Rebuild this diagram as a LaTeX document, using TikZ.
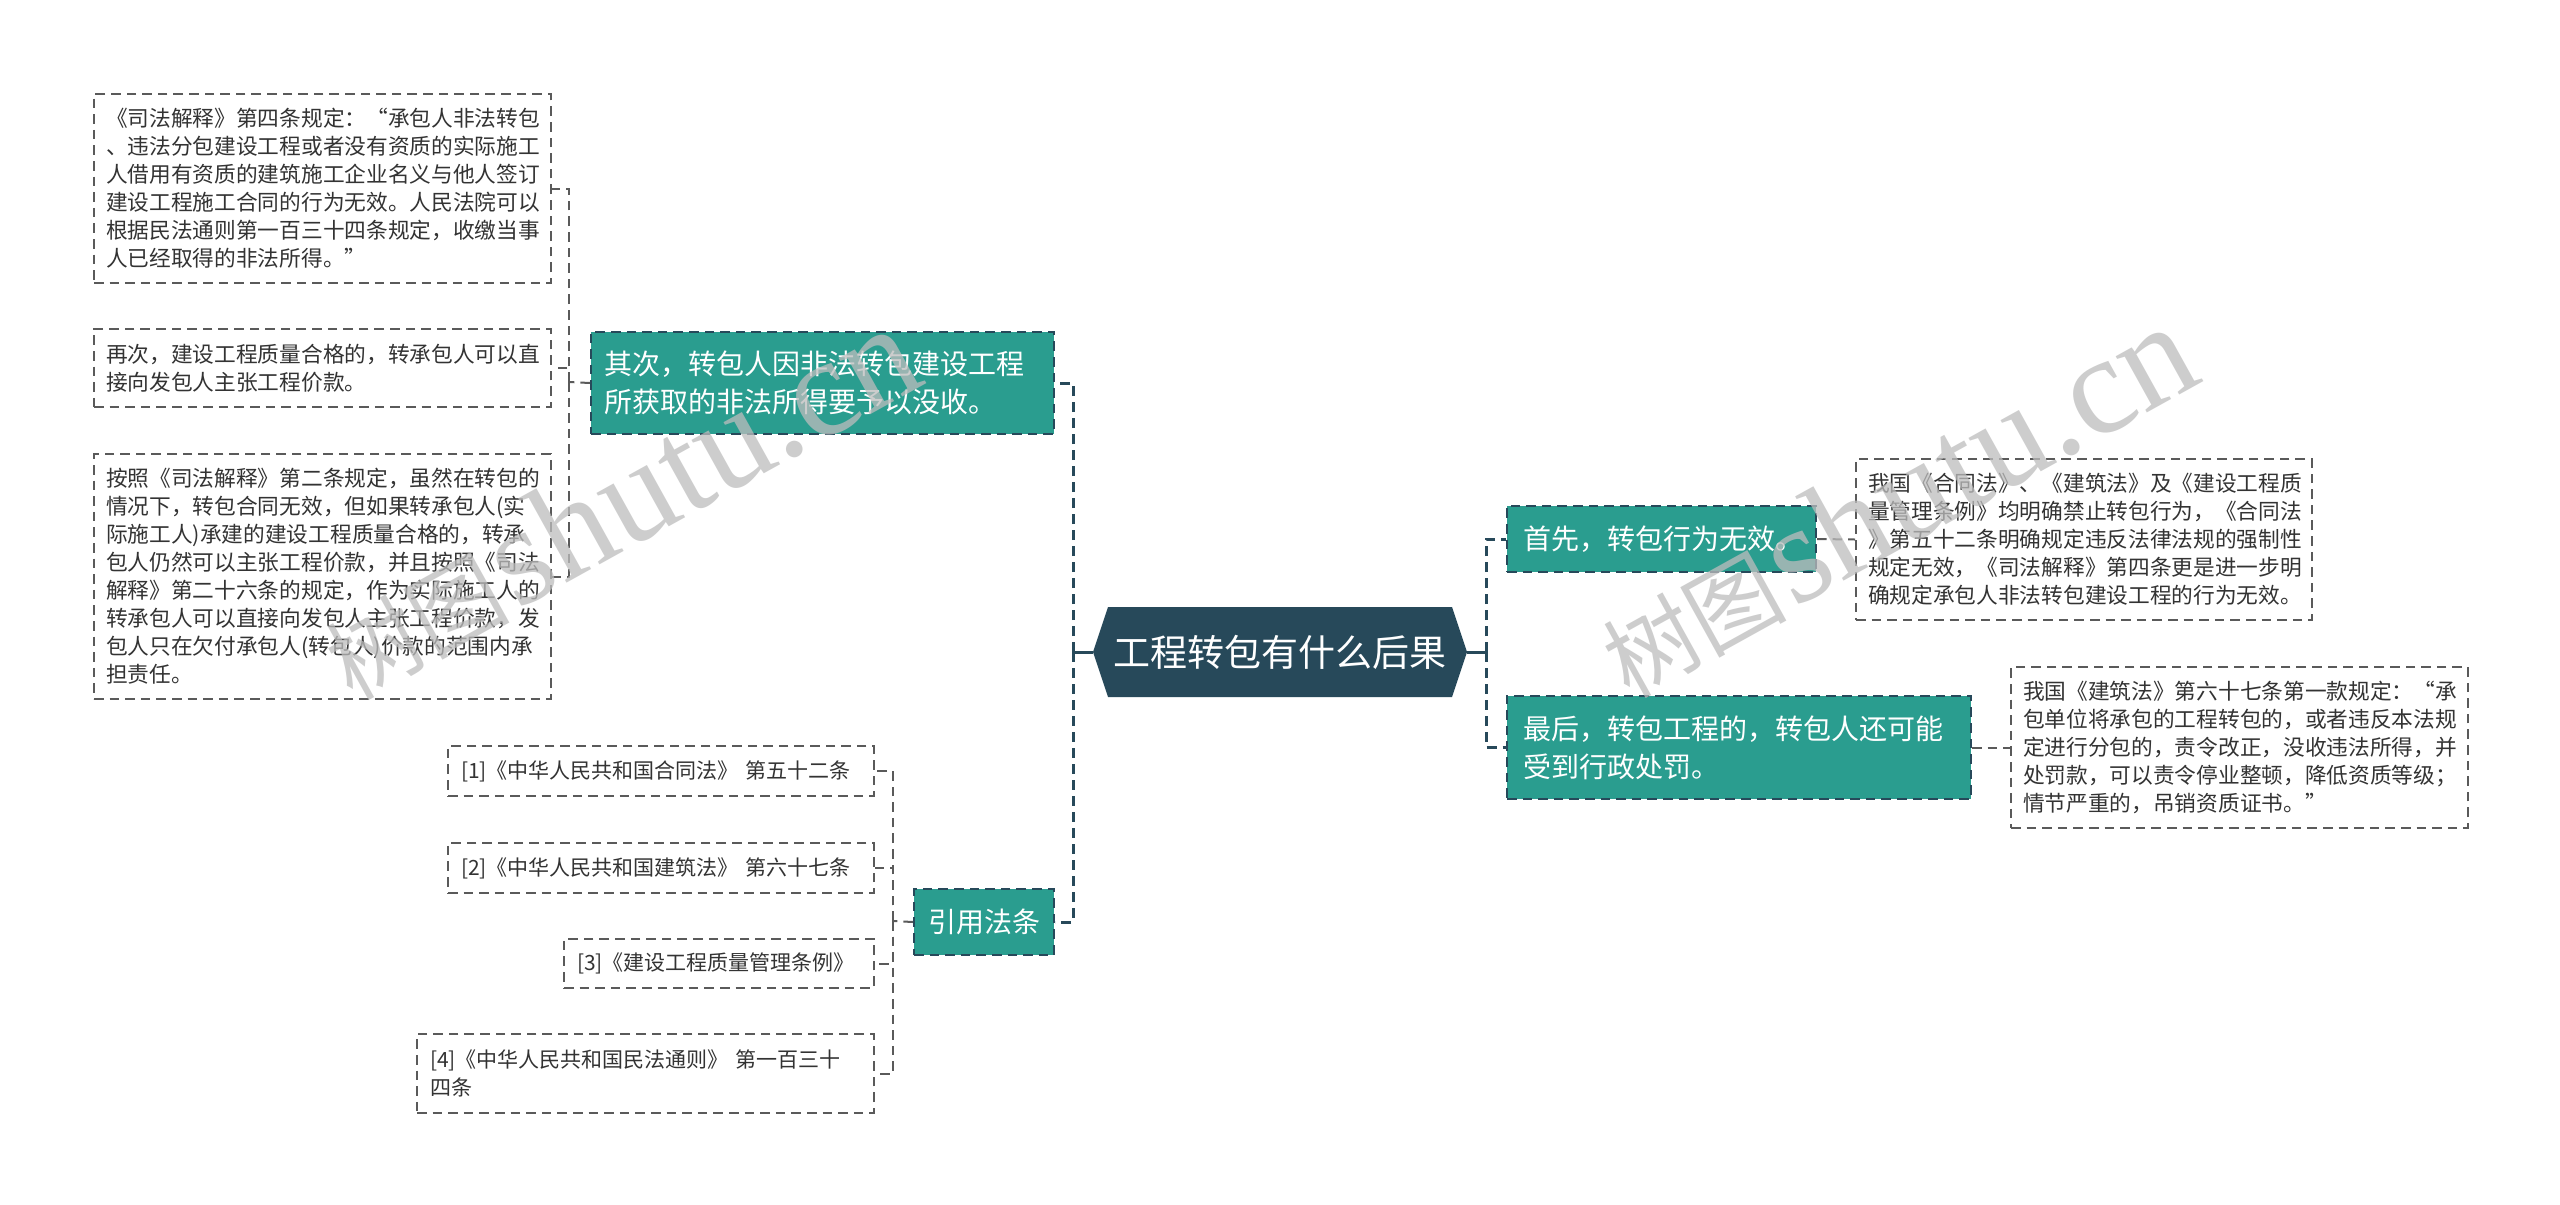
\documentclass[tikz,border=0pt]{standalone}
\usepackage{fontspec}
\setmainfont{Noto Sans CJK SC}
\newfontfamily\wmlatin{Liberation Serif}
\usetikzlibrary{calc}
\definecolor{slate}{HTML}{27495A}
\definecolor{tealfill}{HTML}{2A9D8F}
\definecolor{leafline}{HTML}{5A5A5A}
\definecolor{leaftext}{HTML}{333333}
\definecolor{wmgray}{HTML}{BDBDBD}
\tikzset{
  leafbox/.style={draw=leafline, line width=1pt, dash pattern=on 4.8pt off 3pt,
    fill=white, text=leaftext, font=\fontsize{10.85pt}{14pt}\selectfont,
    align=left, anchor=north west, inner xsep=6pt, inner ysep=0pt},
  refbox/.style={leafbox, font=\fontsize{10.5pt}{14pt}\selectfont, inner xsep=6.5pt},
  branchbox/.style={draw=slate, line width=1pt, dash pattern=on 4.8pt off 3pt,
    fill=tealfill, text=white, font=\fontsize{14pt}{19pt}\selectfont,
    align=left, anchor=north west, inner ysep=0pt},
  centerbox/.style={text=white, font=\fontsize{18.5pt}{22pt}\selectfont,
    minimum width=187pt, minimum height=45pt, inner sep=0pt},
  mainconn/.style={draw=slate, line width=1.5pt, dash pattern=on 5pt off 3pt},
  mainsolid/.style={draw=slate, line width=1.5pt},
  leafconn/.style={draw=leafline, line width=1pt, dash pattern=on 4.8pt off 3pt},
  wmark/.style={text=wmgray, text opacity=0.75, inner sep=0pt, anchor=base west, rotate=29}
}
\begin{document}
\begin{tikzpicture}[x=0.5pt,y=-0.5pt]
\path[use as bounding box, fill=white] (0,0) rectangle (2560,1205);

% center node
\fill[slate] (1093,652) -- (1108,607) -- (1452,607) -- (1467,652) -- (1452,697) -- (1108,697) -- cycle;
\node[centerbox] (c) at (1280,652) {工程转包有什么后果};

% branch nodes
\node[branchbox, inner xsep=6.5pt, text width=218.5pt, minimum height=51pt] (qici) at (590,331)
  {其次，转包人因非法转包建设工程\\所获取的非法所得要予以没收。};
\node[branchbox, inner xsep=7pt, text width=56pt, minimum height=33pt] (yinyong) at (913,888)
  {引用法条};
\node[branchbox, inner xsep=8pt, text width=138.5pt, minimum height=33pt] (shouxian) at (1506,505)
  {首先，转包行为无效。};
\node[branchbox, inner xsep=8pt, text width=216pt, minimum height=51.5pt] (zuihou) at (1506,695)
  {最后，转包工程的，转包人还可能\\受到行政处罚。};

% left leaves
\node[leafbox, text width=216.5pt, minimum height=94.5pt] (la) at (93,93)
  {《司法解释》第四条规定：“承包人非法转包\\、违法分包建设工程或者没有资质的实际施工\\人借用有资质的建筑施工企业名义与他人签订\\建设工程施工合同的行为无效。人民法院可以\\根据民法通则第一百三十四条规定，收缴当事\\人已经取得的非法所得。”};
\node[leafbox, text width=216.5pt, minimum height=39pt] (lb) at (93,328)
  {再次，建设工程质量合格的，转承包人可以直\\接向发包人主张工程价款。};
\node[leafbox, text width=216.5pt, minimum height=122.5pt] (lc) at (93,453)
  {按照《司法解释》第二条规定，虽然在转包的\\情况下，转包合同无效，但如果转承包人(实\\际施工人)承建的建设工程质量合格的，转承\\包人仍然可以主张工程价款，并且按照《司法\\解释》第二十六条的规定，作为实际施工人的\\转承包人可以直接向发包人主张工程价款，发\\包人只在欠付承包人(转包人)价款的范围内承\\担责任。};

% reference leaves
\node[refbox, text width=200pt, minimum height=25pt] (r1) at (447,745)
  {[1]《中华人民共和国合同法》~第五十二条};
\node[refbox, text width=200pt, minimum height=25pt] (r2) at (447,842)
  {[2]《中华人民共和国建筑法》~第六十七条};
\node[refbox, text width=142pt, minimum height=24.5pt] (r3) at (563,938)
  {[3]《建设工程质量管理条例》};
\node[refbox, text width=215.5pt, minimum height=39.5pt] (r4) at (416,1033)
  {[4]《中华人民共和国民法通则》~第一百三十\\四条};

% right leaves
\node[leafbox, text width=216pt, minimum height=80.5pt] (ra) at (1855,458)
  {我国《合同法》、《建筑法》及《建设工程质\\量管理条例》均明确禁止转包行为，《合同法\\》第五十二条明确规定违反法律法规的强制性\\规定无效，《司法解释》第四条更是进一步明\\确规定承包人非法转包建设工程的行为无效。};
\node[leafbox, text width=216.5pt, minimum height=80.5pt] (rb) at (2010,666)
  {我国《建筑法》第六十七条第一款规定：“承\\包单位将承包的工程转包的，或者违反本法规\\定进行分包的，责令改正，没收违法所得，并\\处罚款，可以责令停业整顿，降低资质等级；\\情节严重的，吊销资质证书。”};

% junctions
\coordinate (jL) at (1073,652);
\coordinate (jR) at (1486,652);
\coordinate (jQ) at (569,382);
\coordinate (jY) at (893,921);

% main connectors
\draw[mainsolid] (c.west) -- (jL);
\draw[mainsolid] (c.east) -- (jR);
\draw[mainconn] (jL) |- (qici.east);
\draw[mainconn] (jL) |- (yinyong.east);
\draw[mainconn] (jR) |- (shouxian.west);
\draw[mainconn] (jR) |- (zuihou.west);

% leaf connectors
\draw[leafconn] (qici.west) -- (jQ);
\draw[leafconn] (jQ) |- (la.east);
\draw[leafconn] (jQ) |- (lb.east);
\draw[leafconn] (jQ) |- (lc.east);
\draw[leafconn] (yinyong.west) -- (jY);
\draw[leafconn] (jY) |- (r1.east);
\draw[leafconn] (jY) |- (r2.east);
\draw[leafconn] (jY) |- (r3.east);
\draw[leafconn] (jY) |- (r4.east);
\draw[leafconn] (shouxian.east) -- (ra.west);
\draw[leafconn] (zuihou.east) -- (rb.west);

% watermarks
\node[wmark] (wm1) at (352,702) {{\fontsize{46pt}{46pt}\selectfont 树图} {\wmlatin\fontsize{70pt}{70pt}\selectfont shutu.cn}};
\node[wmark] (wm2) at (1629,700) {{\fontsize{46pt}{46pt}\selectfont 树图} {\wmlatin\fontsize{70pt}{70pt}\selectfont shutu.cn}};
\end{tikzpicture}
\end{document}
